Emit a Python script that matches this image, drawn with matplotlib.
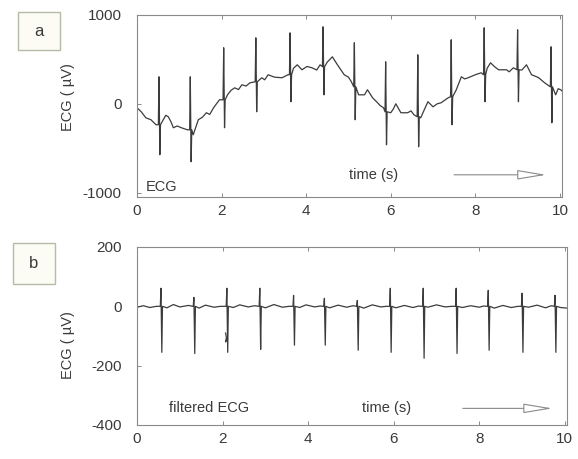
import numpy as np
import matplotlib
matplotlib.use("Agg")
import matplotlib.pyplot as plt
from matplotlib.patches import Rectangle

# ---- panel a: raw ECG ----
a_base_t = [0.00, 0.10, 0.21, 0.33, 0.45, 0.62, 0.68, 0.74, 0.80, 0.86, 0.95, 1.05, 1.19,
            1.33, 1.45, 1.55, 1.64, 1.72, 1.81, 1.95, 2.14, 2.22, 2.31, 2.40, 2.48,
            2.58, 2.67, 2.95, 3.02, 3.10, 3.25, 3.43, 3.57, 3.70, 3.79, 3.90, 4.02,
            4.14, 4.25, 4.33, 4.50, 4.62, 4.74, 4.90, 5.00, 5.07, 5.24, 5.38, 5.45,
            5.57, 5.69, 5.75, 5.83, 6.00, 6.06, 6.12, 6.24, 6.40, 6.48, 6.55, 6.71,
            6.80, 6.88, 7.00, 7.10, 7.19, 7.36, 7.55, 7.67, 7.75, 7.83, 8.00, 8.14,
            8.28, 8.36, 8.45, 8.55, 8.74, 8.80, 8.90, 9.10, 9.21, 9.33, 9.42, 9.50,
            9.64, 9.90, 9.96, 10.02, 10.14]
a_base_v = [-45, -90, -158, -180, -236, -180, -130, -146, -200, -270, -250, -270, -293,
            -349, -180, -150, -101, -120, -45, 45, 101, 150, 180, 160, 214,
            200, 236, 293, 270, 327, 300, 293, 327, 400, 439, 383, 420,
            405, 380, 439, 470, 529, 439, 327, 300, 248, 101, 101, 158,
            68, 11, -20, -45, -101, -60, 0, -101, -101, -80, -124, -158,
            -60, 23, -34, 0, 11, 68, 158, 304, 280, 293, 327, 349,
            400, 462, 420, 383, 383, 360, 405, 380, 439, 327, 310, 293,
            236, 101, 170, 158, 101]
a_beat_t = [0.52, 1.26, 2.05, 2.81, 3.62, 4.40, 5.14, 5.88, 6.64, 7.43, 8.21, 9.00, 9.79]
a_beat_r = [304, 304, 631, 743, 799, 867, 687, 473, 552, 721, 856, 833, 642]
a_beat_s = [-574, -653, -270, -90, 23, 101, -180, -462, -484, -236, 23, 23, -214]
a_beat_base = [-236, -293, 45, 248, 327, 417, 191, -90, -146, 79, 327, 383, 191]

# ---- panel b: filtered ECG ----
b_base_t = [0.00, 0.15, 0.30, 0.45, 0.70, 0.85, 1.00, 1.20, 1.45, 1.60, 1.80, 1.95,
            2.25, 2.40, 2.60, 2.75, 3.00, 3.20, 3.40, 3.55, 3.80, 3.95, 4.15, 4.28,
            4.50, 4.70, 4.90, 5.05, 5.30, 5.50, 5.70, 5.82, 6.05, 6.25, 6.45, 6.58,
            6.80, 7.00, 7.20, 7.35, 7.60, 7.80, 8.00, 8.10, 8.35, 8.55, 8.75, 8.90,
            9.15, 9.35, 9.55, 9.68, 9.90, 10.05]
b_base_v = [-3, 2, -4, 0, -5, 6, -2, 3, -6, 4, -3, 0,
            -4, 5, -2, 2, -5, 6, -3, 0, -4, 5, -2, 1,
            -5, 4, -3, 2, -6, 5, -2, 0, -5, 3, -4, 1,
            -3, 5, -2, 0, -4, 2, -3, 1, -6, 3, -4, 0,
            -3, 4, -5, 2, -4, -6]
b_beat_t = [0.56, 1.33, 2.10, 2.87, 3.66, 4.38, 5.15, 5.92, 6.69, 7.46, 8.21, 9.00, 9.77]
b_beat_r = [61, 30, 61, 61, 37, 27, 20, 61, 61, 61, 54, 44, 37]
b_beat_s = [-155, -159, -155, -145, -131, -131, -148, -155, -175, -159, -148, -155, -155]
b_kink_t = [2.07, 2.09, 2.07, 2.11]
b_kink_v = [-90, -105, -120, -110]


def trace(base_t, base_v, beat_t, beat_r, beat_s, beat_base):
    pts = list(zip(base_t, base_v))
    for t, r, s, b in zip(beat_t, beat_r, beat_s, beat_base):
        pts += [(t - 0.015, b), (t, r), (t + 0.02, s), (t + 0.035, b)]
    pts.sort()
    return [p[0] for p in pts], [p[1] for p in pts]


plt.rcParams['font.family'] = ['Liberation Sans', 'DejaVu Sans']
plt.rcParams['axes.unicode_minus'] = False
fig = plt.figure(figsize=(5.78, 4.59), dpi=100)
fig.patch.set_facecolor('white')

ax1 = fig.add_axes([137 / 578, 1 - 197 / 459, 425 / 578, 182 / 459])
ax2 = fig.add_axes([137 / 578, 1 - 425 / 459, 430 / 578, 178 / 459])

line_col = '#3c3c3c'
spine_col = '#8a8a8a'
txt_col = '#3a3a3a'

ta, va = trace(a_base_t, a_base_v, a_beat_t, a_beat_r, a_beat_s, a_beat_base)
ax1.plot(ta, va, color=line_col, lw=0.9)
ax1.set_xlim(0, 10.05)
ax1.set_ylim(-1050, 1000)
ax1.set_yticks([-1000, 0, 1000])
ax1.set_xticks([0, 2, 4, 6, 8, 10])

tb, vb = trace(b_base_t, b_base_v, b_beat_t, b_beat_r, b_beat_s, [0] * len(b_beat_t))
ax2.plot(tb, vb, color=line_col, lw=0.9)
ax2.plot(b_kink_t, b_kink_v, color=line_col, lw=0.9)
ax2.set_xlim(0, 10.05)
ax2.set_ylim(-400, 200)
ax2.set_yticks([-400, -200, 0, 200])
ax2.set_xticks([0, 2, 4, 6, 8, 10])

for ax in (ax1, ax2):
    for sp in ax.spines.values():
        sp.set_color(spine_col)
        sp.set_linewidth(0.8)
    ax.tick_params(direction='in', length=3, width=0.7, color=spine_col,
                   top=True, labelsize=11, labelcolor=txt_col)
    ax.tick_params(axis='y', pad=11)
    ax.tick_params(axis='x', pad=5)
    ax.set_ylabel('ECG ( \u00b5V)', fontsize=10.5, color=txt_col)

ax1.yaxis.set_label_coords(-0.145, 0.55)
ax2.yaxis.set_label_coords(-0.145, 0.45)

# labels inside the panels
ax1.text(0.2, -935, 'ECG', fontsize=10.5, color=txt_col, va='center')
ax1.text(5.6, -800, 'time (s)', fontsize=10.5, color=txt_col, ha='center', va='center')
ax1.annotate('', xy=(9.74, -800), xytext=(7.43, -800),
             arrowprops=dict(arrowstyle='-|>,head_length=1.8,head_width=0.3',
                             fc='white', ec='#8a8a8a', lw=0.8))

ax2.text(1.68, -344, 'filtered ECG', fontsize=10.5, color=txt_col, ha='center', va='center')
ax2.text(5.83, -344, 'time (s)', fontsize=10.5, color=txt_col, ha='center', va='center')
ax2.annotate('', xy=(9.77, -344), xytext=(7.55, -344),
             arrowprops=dict(arrowstyle='-|>,head_length=1.8,head_width=0.3',
                             fc='white', ec='#8a8a8a', lw=0.8))

# panel letter boxes
for x0, y0, x1, y1, lab in [(18, 12, 60, 50, 'a'), (13, 243, 55, 284, 'b')]:
    fig.add_artist(Rectangle((x0 / 578, 1 - y1 / 459), (x1 - x0) / 578, (y1 - y0) / 459,
                             transform=fig.transFigure, fill=True, fc='#fcfcf4',
                             ec='#b4bca8', lw=1.0))
    fig.text((x0 + x1) / 2 / 578, 1 - (y0 + y1) / 2 / 459, lab, fontsize=12,
             color=txt_col, ha='center', va='center')

fig.savefig('out.png', dpi=100)
